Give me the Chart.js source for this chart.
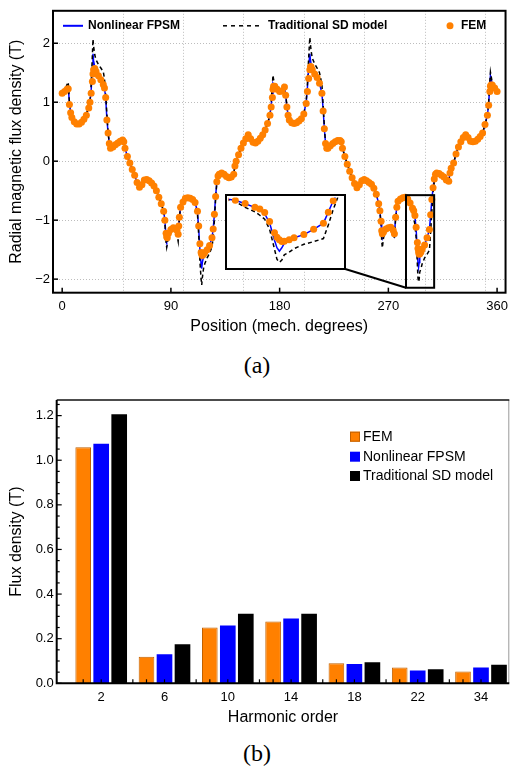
<!DOCTYPE html>
<html>
<head>
<meta charset="utf-8">
<script src="https://cdn.jsdelivr.net/npm/chart.js@4.4.1/dist/chart.umd.min.js"></script>
<style>
  body { margin: 0; width: 514px; height: 768px; position: relative; background: #fff; overflow: hidden; }
  .abs { position: absolute; }
  .cap { position: absolute; left: 0; width: 514px; text-align: center; font: 24px "Liberation Serif", "Times New Roman", serif; line-height: 26px; color: #000; }
</style>
</head>
<body>
<canvas id="chartA" class="abs" style="left:0;top:0" width="514" height="345"></canvas>
<canvas id="inset" class="abs" style="background:#fff"></canvas>
<div class="cap" style="top:352px">(a)</div>
<canvas id="chartB" class="abs" style="left:0;top:380px" width="514" height="355"></canvas>
<div class="cap" style="top:740px">(b)</div>
<script>
// (a) radial flux density along the air gap
const angleDeg = [
  0, 2, 4, 5, 6, 7, 8, 10, 12, 14,
  16, 18, 20, 22, 23, 24, 25, 25.5, 26, 27,
  28, 30, 32, 34, 35, 36, 37, 38, 39, 40,
  42, 44, 46, 48, 50, 51, 52, 54, 56, 58,
  60, 62, 64, 66, 68, 70, 72, 74, 76, 78,
  80, 82, 84, 85, 86, 86.5, 87, 88, 90, 92,
  94, 95, 96, 96.5, 97, 98, 100, 102, 104, 106,
  108, 110, 112, 113, 114, 115, 115.5, 116, 117, 118,
  120, 122, 124, 125, 126, 127, 128, 129, 130, 132,
  134, 136, 138, 140, 142, 143, 144, 146, 148, 150,
  152, 154, 156, 158, 160, 162, 164, 166, 168, 170,
  172, 173, 174, 174.5, 175, 176, 178, 180, 182, 184,
  185, 186, 187, 188, 190, 192, 194, 196, 198, 200,
  202, 203, 204, 205, 205.5, 206, 207, 209, 211, 213,
  215, 216, 217, 218, 219, 220, 222, 224, 226, 228,
  230, 231, 232, 234, 236, 238, 240, 242, 244, 246,
  248, 250, 252, 254, 256, 258, 260, 262, 263, 264,
  264.5, 265, 266, 268, 270, 272, 274, 275, 276, 277,
  278, 280, 282, 284, 286, 288, 290, 291, 292, 293,
  294, 294.5, 295, 295.5, 296, 297, 298, 300, 302, 304,
  305, 306, 307, 308, 309, 310, 312, 314, 316, 318,
  320, 321, 322, 324, 326, 328, 330, 332, 334, 336,
  338, 340, 342, 344, 346, 348, 350, 352, 353, 354,
  354.5, 355, 356, 358, 360
];
const femB = [
  1.15, 1.18, 1.22, 1.23, 0.96, 0.82, 0.74, 0.67, 0.63, 0.63,
  0.66, 0.71, 0.78, 0.90, 1.00, 1.15, 1.35, 1.48, 1.55, 1.57,
  1.52, 1.45, 1.38, 1.30, 1.24, 1.08, 0.70, 0.48, 0.30, 0.22,
  0.24, 0.28, 0.31, 0.34, 0.36, 0.33, 0.22, 0.08, -0.03, -0.14,
  -0.24, -0.36, -0.44, -0.40, -0.32, -0.31, -0.33, -0.37, -0.42, -0.50,
  -0.61, -0.72, -0.85, -1.00, -1.22, -1.28, -1.30, -1.22, -1.16, -1.13,
  -1.14, -1.17, -1.24, -1.10, -0.95, -0.78, -0.69, -0.63, -0.62, -0.63,
  -0.65, -0.70, -0.85, -1.10, -1.40, -1.55, -1.58, -1.60, -1.58, -1.55,
  -1.50, -1.43, -1.30, -1.15, -0.90, -0.60, -0.35, -0.25, -0.22, -0.20,
  -0.22, -0.26, -0.28, -0.27, -0.22, -0.08, 0.00, 0.11, 0.22, 0.31,
  0.38, 0.45, 0.38, 0.32, 0.31, 0.34, 0.39, 0.45, 0.53, 0.64,
  0.78, 0.92, 1.08, 1.22, 1.27, 1.27, 1.22, 1.18, 1.19, 1.26,
  1.12, 0.92, 0.78, 0.70, 0.65, 0.64, 0.65, 0.68, 0.72, 0.80,
  0.98, 1.18, 1.40, 1.55, 1.60, 1.60, 1.55, 1.48, 1.42, 1.32,
  1.15, 0.85, 0.55, 0.30, 0.22, 0.22, 0.26, 0.30, 0.33, 0.35,
  0.35, 0.33, 0.22, 0.08, -0.05, -0.17, -0.28, -0.38, -0.45, -0.40,
  -0.33, -0.31, -0.33, -0.36, -0.39, -0.46, -0.56, -0.72, -0.84, -1.02,
  -1.18, -1.23, -1.20, -1.15, -1.13, -1.12, -1.17, -1.23, -0.95, -0.78,
  -0.68, -0.64, -0.62, -0.61, -0.64, -0.71, -0.80, -0.84, -0.92, -1.12,
  -1.38, -1.48, -1.54, -1.58, -1.57, -1.54, -1.49, -1.42, -1.30, -1.16,
  -0.91, -0.65, -0.45, -0.30, -0.22, -0.20, -0.21, -0.24, -0.27, -0.32,
  -0.34, -0.20, -0.12, -0.03, 0.12, 0.24, 0.33, 0.40, 0.45, 0.40,
  0.34, 0.33, 0.34, 0.37, 0.42, 0.48, 0.62, 0.78, 0.95, 1.18,
  1.27, 1.29, 1.29, 1.24, 1.18
];
const fpsmB = [
  1.15, 1.18, 1.23, 1.26, 0.98, 0.82, 0.74, 0.67, 0.63, 0.63,
  0.66, 0.71, 0.79, 0.90, 1.00, 1.20, 1.60, 1.82, 1.70, 1.60,
  1.53, 1.45, 1.38, 1.30, 1.24, 1.08, 0.72, 0.48, 0.30, 0.22,
  0.24, 0.28, 0.31, 0.34, 0.36, 0.33, 0.22, 0.08, -0.03, -0.14,
  -0.24, -0.36, -0.44, -0.40, -0.32, -0.31, -0.33, -0.37, -0.42, -0.50,
  -0.61, -0.72, -0.85, -1.00, -1.30, -1.35, -1.32, -1.22, -1.16, -1.13,
  -1.14, -1.20, -1.26, -1.10, -0.95, -0.78, -0.69, -0.63, -0.62, -0.63,
  -0.65, -0.70, -0.86, -1.15, -1.50, -1.75, -1.82, -1.72, -1.62, -1.56,
  -1.50, -1.43, -1.30, -1.15, -0.90, -0.60, -0.35, -0.25, -0.22, -0.20,
  -0.22, -0.26, -0.28, -0.27, -0.22, -0.08, 0.00, 0.11, 0.22, 0.31,
  0.38, 0.45, 0.38, 0.32, 0.31, 0.34, 0.39, 0.45, 0.53, 0.64,
  0.78, 0.95, 1.15, 1.32, 1.30, 1.27, 1.22, 1.18, 1.20, 1.27,
  1.12, 0.92, 0.78, 0.70, 0.65, 0.64, 0.65, 0.68, 0.72, 0.80,
  1.00, 1.25, 1.60, 1.82, 1.72, 1.65, 1.56, 1.48, 1.42, 1.32,
  1.15, 0.88, 0.55, 0.30, 0.22, 0.22, 0.26, 0.30, 0.33, 0.35,
  0.35, 0.33, 0.22, 0.08, -0.05, -0.17, -0.28, -0.38, -0.45, -0.40,
  -0.33, -0.31, -0.33, -0.36, -0.39, -0.46, -0.56, -0.72, -0.84, -1.05,
  -1.25, -1.30, -1.22, -1.15, -1.13, -1.12, -1.18, -1.25, -0.95, -0.78,
  -0.68, -0.64, -0.62, -0.61, -0.64, -0.72, -0.80, -0.86, -0.95, -1.15,
  -1.55, -1.72, -1.80, -1.72, -1.62, -1.55, -1.49, -1.42, -1.30, -1.16,
  -0.91, -0.65, -0.45, -0.30, -0.22, -0.20, -0.21, -0.24, -0.27, -0.32,
  -0.34, -0.20, -0.12, -0.03, 0.12, 0.24, 0.33, 0.40, 0.45, 0.40,
  0.34, 0.33, 0.34, 0.37, 0.42, 0.48, 0.62, 0.78, 0.97, 1.30,
  1.45, 1.40, 1.30, 1.24, 1.18
];
const sdB = [
  1.15, 1.20, 1.30, 1.34, 1.00, 0.83, 0.74, 0.68, 0.64, 0.64,
  0.67, 0.72, 0.80, 0.92, 1.02, 1.30, 1.80, 2.07, 1.95, 1.80,
  1.72, 1.64, 1.58, 1.52, 1.40, 1.15, 0.80, 0.50, 0.30, 0.22,
  0.24, 0.28, 0.31, 0.34, 0.36, 0.33, 0.22, 0.08, -0.03, -0.14,
  -0.24, -0.36, -0.44, -0.40, -0.32, -0.31, -0.33, -0.37, -0.42, -0.50,
  -0.61, -0.72, -0.86, -1.05, -1.38, -1.46, -1.40, -1.25, -1.17, -1.14,
  -1.16, -1.25, -1.36, -1.15, -0.96, -0.78, -0.69, -0.63, -0.62, -0.63,
  -0.66, -0.72, -0.90, -1.25, -1.70, -2.00, -2.10, -1.98, -1.82, -1.74,
  -1.64, -1.56, -1.45, -1.30, -1.00, -0.65, -0.36, -0.25, -0.22, -0.20,
  -0.22, -0.26, -0.28, -0.27, -0.22, -0.08, 0.00, 0.11, 0.22, 0.31,
  0.38, 0.45, 0.38, 0.32, 0.31, 0.34, 0.39, 0.45, 0.53, 0.64,
  0.78, 1.00, 1.30, 1.46, 1.38, 1.30, 1.23, 1.19, 1.22, 1.32,
  1.15, 0.93, 0.78, 0.70, 0.65, 0.64, 0.65, 0.68, 0.72, 0.80,
  1.02, 1.30, 1.75, 2.10, 1.98, 1.88, 1.75, 1.65, 1.58, 1.50,
  1.30, 0.95, 0.60, 0.30, 0.22, 0.22, 0.26, 0.30, 0.33, 0.35,
  0.35, 0.33, 0.22, 0.08, -0.05, -0.17, -0.28, -0.38, -0.45, -0.40,
  -0.33, -0.31, -0.33, -0.36, -0.39, -0.46, -0.56, -0.72, -0.86, -1.10,
  -1.35, -1.47, -1.30, -1.17, -1.14, -1.13, -1.22, -1.32, -0.98, -0.78,
  -0.68, -0.64, -0.62, -0.62, -0.67, -0.80, -0.90, -0.98, -1.07, -1.30,
  -1.75, -1.98, -2.05, -2.00, -1.88, -1.82, -1.74, -1.64, -1.58, -1.51,
  -1.20, -0.85, -0.55, -0.35, -0.22, -0.20, -0.21, -0.24, -0.27, -0.32,
  -0.34, -0.20, -0.12, -0.03, 0.12, 0.24, 0.33, 0.40, 0.45, 0.40,
  0.34, 0.33, 0.34, 0.37, 0.42, 0.48, 0.62, 0.78, 1.00, 1.35,
  1.51, 1.45, 1.33, 1.25, 1.18
];
const posTicks = [0, 90, 180, 270, 360];
const fluxTicks = [-2, -1, 0, 1, 2];
const gridDeg = [50, 100, 150, 200, 250, 300, 350];
// zoomed window and where the inset sits (both in data units of the main plot)
const zoomDeg = [284.6, 307.9];
const zoomB = [-0.576, -2.146];
const insetDeg = [135.8, 234.3];
const insetB = [-0.571, -1.827];

// (b) harmonic amplitudes
const harmonicOrder = ['2', '6', '10', '14', '18', '22', '34'];
const femAmp = [1.058, 0.119, 0.250, 0.277, 0.090, 0.071, 0.053];
const fpsmAmp = [1.074, 0.130, 0.259, 0.291, 0.087, 0.057, 0.071];
const sdAmp = [1.206, 0.175, 0.312, 0.312, 0.094, 0.063, 0.083];
const ampTicks = [0, 0.2, 0.4, 0.6, 0.8, 1.0, 1.2];

const ORANGE = '#ff8000';
const BLUE = '#0000ff';
const FONT = '"Liberation Sans", Arial, sans-serif';
Chart.defaults.font.family = FONT;
Chart.defaults.font.size = 13;
Chart.defaults.color = '#000';

const xyA = ys => angleDeg.map((a, i) => ({ x: a, y: ys[i] }));
const waveSets = () => [
  { label: 'FEM', data: xyA(femB), showLine: false, pointRadius: 3.5, pointHoverRadius: 3.5,
    pointBorderWidth: 0, backgroundColor: ORANGE, borderColor: ORANGE },
  { label: 'Traditional SD model', data: xyA(sdB), borderColor: '#000', borderWidth: 1.5,
    borderDash: [4, 3], pointRadius: 0, tension: 0 },
  { label: 'Nonlinear FPSM', data: xyA(fpsmB), borderColor: BLUE, borderWidth: 1.5,
    pointRadius: 0, tension: 0 }
];

// grid, frame, inward ticks, zoom box and legend for (a)
const decorA = {
  id: 'decorA',
  beforeDatasetsDraw(chart) {
    const { ctx, chartArea: ca, scales: { x, y } } = chart;
    ctx.save();
    ctx.strokeStyle = '#bdbdbd';
    ctx.lineWidth = 1;
    ctx.setLineDash([1, 2]);
    gridDeg.forEach(d => {
      const px = Math.round(x.getPixelForValue(d)) + 0.5;
      ctx.beginPath(); ctx.moveTo(px, ca.top); ctx.lineTo(px, ca.bottom); ctx.stroke();
    });
    fluxTicks.forEach(v => {
      const py = Math.round(y.getPixelForValue(v)) + 0.5;
      ctx.beginPath(); ctx.moveTo(ca.left, py); ctx.lineTo(ca.right, py); ctx.stroke();
    });
    ctx.restore();
  },
  afterDraw(chart) {
    const { ctx, chartArea: ca, scales: { x, y } } = chart;
    ctx.save();
    ctx.strokeStyle = '#000';
    ctx.lineWidth = 1.5;
    posTicks.forEach(d => {
      const px = x.getPixelForValue(d);
      ctx.beginPath(); ctx.moveTo(px, ca.bottom); ctx.lineTo(px, ca.bottom - 5); ctx.stroke();
    });
    fluxTicks.forEach(v => {
      const py = y.getPixelForValue(v);
      ctx.beginPath(); ctx.moveTo(ca.left, py); ctx.lineTo(ca.left + 5, py); ctx.stroke();
    });
    ctx.lineWidth = 2;
    ctx.strokeRect(ca.left, ca.top, ca.right - ca.left, ca.bottom - ca.top);

    // zoom window and connector to the inset
    const zx0 = x.getPixelForValue(zoomDeg[0]), zx1 = x.getPixelForValue(zoomDeg[1]);
    const zy0 = y.getPixelForValue(zoomB[0]), zy1 = y.getPixelForValue(zoomB[1]);
    ctx.strokeRect(zx0, zy0, zx1 - zx0, zy1 - zy0);
    ctx.beginPath();
    ctx.moveTo(x.getPixelForValue(insetDeg[1]), y.getPixelForValue(insetB[1]));
    ctx.lineTo(zx0, zy1);
    ctx.stroke();

    // legend row inside the frame
    const ds = chart.data.datasets;
    const ly = ca.top + 15;
    ctx.font = 'bold 12px ' + FONT;
    ctx.fillStyle = '#000';
    ctx.textBaseline = 'middle';
    ctx.lineWidth = 2;
    ctx.strokeStyle = ds[2].borderColor;
    ctx.beginPath(); ctx.moveTo(ca.left + 10, ly); ctx.lineTo(ca.left + 30, ly); ctx.stroke();
    ctx.fillText(ds[2].label, ca.left + 35, ly);
    ctx.strokeStyle = ds[1].borderColor;
    ctx.lineWidth = 1.5;
    ctx.setLineDash([4, 4]);
    ctx.beginPath(); ctx.moveTo(ca.left + 170, ly); ctx.lineTo(ca.left + 206, ly); ctx.stroke();
    ctx.setLineDash([]);
    ctx.fillText(ds[1].label, ca.left + 215, ly);
    ctx.fillStyle = ds[0].backgroundColor;
    ctx.beginPath(); ctx.arc(ca.left + 397, ly, 3.5, 0, Math.PI * 2); ctx.fill();
    ctx.fillStyle = '#000';
    ctx.fillText(ds[0].label, ca.left + 408, ly);
    ctx.restore();
  }
};

const chartA = new Chart(document.getElementById('chartA'), {
  type: 'line',
  data: { datasets: waveSets() },
  options: {
    responsive: false,
    animation: false,
    events: [],
    layout: { padding: { top: 8, right: 1, left: 0, bottom: 0 } },
    plugins: { legend: { display: false }, tooltip: { enabled: false } },
    scales: {
      x: {
        type: 'linear', min: -7.6, max: 367,
        afterBuildTicks: s => { s.ticks = posTicks.map(v => ({ value: v })); },
        afterFit: s => { s.height = 52.3; },
        grid: { display: false, drawTicks: false },
        border: { display: false },
        ticks: { padding: 6, font: { size: 13 } },
        title: { display: true, text: 'Position (mech. degrees)', font: { size: 16 }, padding: { top: 0, bottom: 8.4 } }
      },
      y: {
        type: 'linear', min: -2.23, max: 2.55,
        afterBuildTicks: s => { s.ticks = fluxTicks.map(v => ({ value: v })); },
        afterFit: s => { s.width = 53; },
        grid: { display: false, drawTicks: false },
        border: { display: false },
        ticks: { padding: 3, font: { size: 13 }, callback: v => (v < 0 ? '\u2212' + Math.abs(v) : String(v)) },
        title: { display: true, text: 'Radial magnetic flux density (T)', font: { size: 16 }, padding: { top: 7.4, bottom: 0 } }
      }
    }
  },
  plugins: [decorA]
});

// inset: same series, zoomed into the window
const insetCanvas = document.getElementById('inset');
const sxA = chartA.scales.x, syA = chartA.scales.y;
const iL = Math.round(sxA.getPixelForValue(insetDeg[0]));
const iR = Math.round(sxA.getPixelForValue(insetDeg[1]));
const iT = Math.round(syA.getPixelForValue(insetB[0]));
const iB = Math.round(syA.getPixelForValue(insetB[1]));
insetCanvas.style.left = (iL - 1) + 'px';
insetCanvas.style.top = (iT - 1) + 'px';
insetCanvas.width = iR - iL + 2;
insetCanvas.height = iB - iT + 2;

const insetFrame = {
  id: 'insetFrame',
  afterDraw(chart) {
    const ctx = chart.ctx;
    ctx.save();
    ctx.strokeStyle = '#000';
    ctx.lineWidth = 2;
    ctx.strokeRect(1, 1, chart.width - 2, chart.height - 2);
    ctx.restore();
  }
};

new Chart(insetCanvas, {
  type: 'line',
  data: { datasets: waveSets() },
  options: {
    responsive: false,
    animation: false,
    events: [],
    layout: { padding: 0 },
    plugins: { legend: { display: false }, tooltip: { enabled: false } },
    scales: {
      x: { type: 'linear', display: false, min: zoomDeg[0], max: zoomDeg[1] },
      y: { type: 'linear', display: false, min: zoomB[1], max: zoomB[0] }
    }
  },
  plugins: [insetFrame]
});

// (b) bars
const xyB = ys => ys.map((v, i) => ({ x: i, y: v }));
const decorB = {
  id: 'decorB',
  afterDraw(chart) {
    const { ctx, chartArea: ca, scales: { x, y } } = chart;
    ctx.save();
    ctx.strokeStyle = '#000';
    // minor and major ticks on the left axis, pointing inward
    ctx.lineWidth = 1.2;
    for (let k = 0; k <= 25; k++) {
      const py = y.getPixelForValue(k * 0.05);
      const len = k % 4 === 0 ? 5 : 3;
      ctx.beginPath(); ctx.moveTo(ca.left, py); ctx.lineTo(ca.left + len, py); ctx.stroke();
    }
    // small ticks along the bottom axis: bar centres and group gaps
    chart.data.datasets.forEach((d, di) => {
      chart.getDatasetMeta(di).data.forEach(bar => {
        ctx.beginPath(); ctx.moveTo(bar.x, ca.bottom); ctx.lineTo(bar.x, ca.bottom - 4); ctx.stroke();
      });
    });
    for (let i = 0; i < harmonicOrder.length - 1; i++) {
      const px = x.getPixelForValue(i + 0.5);
      ctx.beginPath(); ctx.moveTo(px, ca.bottom); ctx.lineTo(px, ca.bottom - 4); ctx.stroke();
    }
    // frame
    ctx.lineWidth = 1;
    ctx.strokeStyle = '#999';
    ctx.beginPath(); ctx.moveTo(ca.right - 0.5, ca.top); ctx.lineTo(ca.right - 0.5, ca.bottom); ctx.stroke();
    ctx.strokeStyle = '#111';
    ctx.lineWidth = 1.6;
    ctx.beginPath(); ctx.moveTo(ca.left, ca.top); ctx.lineTo(ca.right, ca.top); ctx.stroke();
    ctx.strokeStyle = '#000';
    ctx.lineWidth = 2;
    ctx.beginPath();
    ctx.moveTo(ca.left, ca.top); ctx.lineTo(ca.left, ca.bottom); ctx.lineTo(ca.right, ca.bottom);
    ctx.stroke();

    // legend
    ctx.font = '14px ' + FONT;
    ctx.textBaseline = 'middle';
    const rows = [36.7, 56.7, 76];
    chart.data.datasets.forEach((d, di) => {
      const ly = ca.top + rows[di];
      ctx.fillStyle = d.backgroundColor;
      ctx.fillRect(350, ly - 5, 10, 10);
      if (d.borderWidth) {
        ctx.strokeStyle = d.borderColor; ctx.lineWidth = 1;
        ctx.strokeRect(350.5, ly - 4.5, 9, 9);
      }
      ctx.fillStyle = '#000';
      ctx.fillText(d.label, 363, ly + 0.5);
    });
    ctx.restore();
  }
};

new Chart(document.getElementById('chartB'), {
  type: 'bar',
  data: {
    datasets: [
      { label: 'FEM', data: xyB(femAmp), backgroundColor: ORANGE, borderColor: '#c06000', borderWidth: 1 },
      { label: 'Nonlinear FPSM', data: xyB(fpsmAmp), backgroundColor: BLUE, borderWidth: 0 },
      { label: 'Traditional SD model', data: xyB(sdAmp), backgroundColor: '#000', borderWidth: 0 }
    ]
  },
  options: {
    responsive: false,
    animation: false,
    events: [],
    categoryPercentage: 0.853,
    barPercentage: 0.87,
    layout: { padding: { top: 20, right: 4.7, left: 0, bottom: 0 } },
    plugins: { legend: { display: false }, tooltip: { enabled: false } },
    scales: {
      x: {
        type: 'linear', min: -0.703, max: 6.447, offset: false,
        afterBuildTicks: s => { s.ticks = harmonicOrder.map((h, i) => ({ value: i })); },
        afterFit: s => { s.height = 51.7; },
        grid: { display: false, drawTicks: false, offset: false },
        border: { display: false },
        ticks: { padding: 6, font: { size: 13 }, callback: v => harmonicOrder[v] },
        title: { display: true, text: 'Harmonic order', font: { size: 16 }, padding: { top: 0, bottom: 7.4 } }
      },
      y: {
        type: 'linear', min: 0, max: 1.27,
        afterBuildTicks: s => { s.ticks = ampTicks.map(v => ({ value: v })); },
        afterFit: s => { s.width = 56.7; },
        grid: { display: false, drawTicks: false },
        border: { display: false },
        ticks: { padding: 3, font: { size: 13 }, callback: v => v.toFixed(1) },
        title: { display: true, text: 'Flux density (T)', font: { size: 16 }, padding: { top: 7.4, bottom: 0 } }
      }
    }
  },
  plugins: [decorB]
});
</script>
</body>
</html>
